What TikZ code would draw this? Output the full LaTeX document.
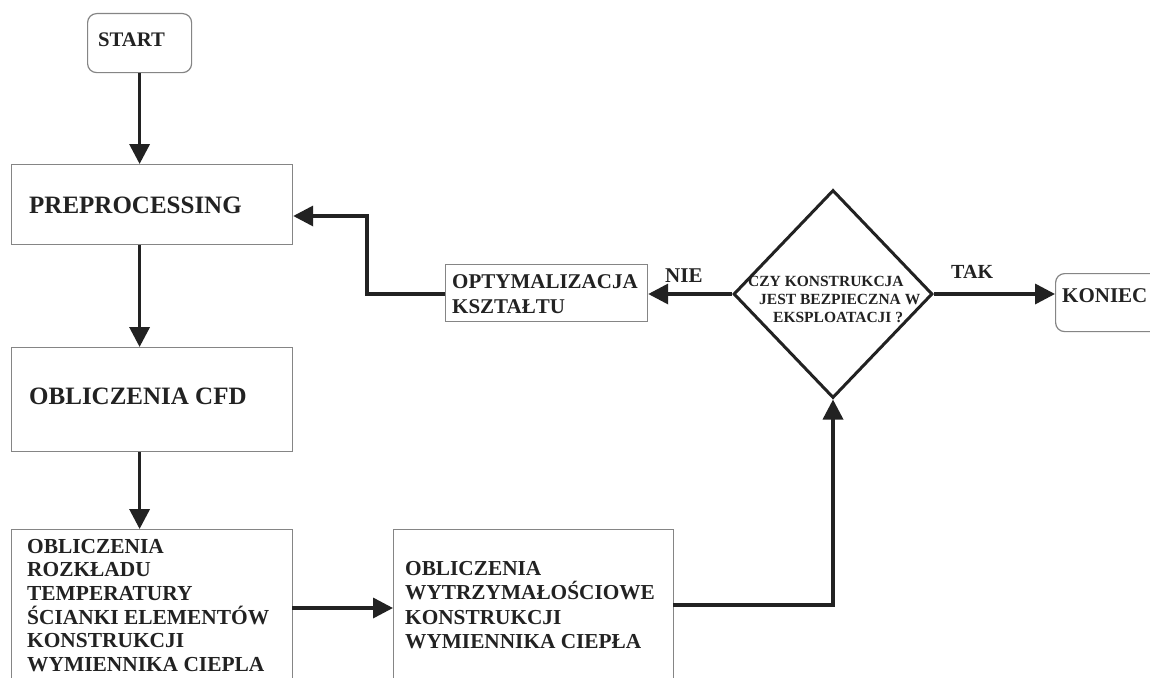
\documentclass[tikz,border=0pt]{standalone}
\usepackage{fontspec}
\setmainfont{Liberation Serif}
\usetikzlibrary{shapes.geometric,arrows.meta}
\definecolor{ink}{HTML}{222222}
\definecolor{boxgray}{HTML}{858585}
\begin{document}
\begin{tikzpicture}[x=1pt,y=-1pt,
  box/.style={draw=boxgray,line width=1.2pt,rectangle,inner sep=0pt,anchor=north west,fill=none},
  rbox/.style={box,rounded corners=9pt},
  conn/.style={line width=3.5pt,draw=ink},
  arr/.style={conn,-{Triangle[length=20pt,width=20pt]}},
  txt/.style={text=ink,inner sep=0pt,anchor=base west,align=left},
  big/.style={txt,font=\bfseries\fontsize{25}{30}\selectfont},
  mid/.style={txt,font=\bfseries\fontsize{21}{24}\selectfont},
  small/.style={txt,font=\bfseries\fontsize{15.5}{18}\selectfont}
]
\useasboundingbox (0,0) rectangle (1150,677);
\clip (0,0) rectangle (1150,677);
\fill[white] (0,0) rectangle (1150,677);

% boxes
\node[rbox,minimum width=104pt,minimum height=59pt] (start) at (87,13) {};
\node[box,minimum width=281pt,minimum height=80pt] (pre) at (11,164) {};
\node[box,minimum width=281pt,minimum height=104pt] (cfd) at (11,347) {};
\node[box,minimum width=281pt,minimum height=170pt] (temp) at (11,529) {};
\node[box,minimum width=280pt,minimum height=170pt] (wytrz) at (393,529) {};
\node[box,minimum width=202pt,minimum height=57pt] (opt) at (445,264) {};
\node[rbox,minimum width=120pt,minimum height=58pt] (koniec) at (1055,273) {};
\node[diamond,draw=ink,line width=3pt,inner sep=0pt,minimum width=199pt,minimum height=208pt] (dec) at (833,294) {};

% texts (multi-line nodes: base anchor = baseline of last line)
\node[mid,font=\bfseries\fontsize{20.7}{24}\selectfont] (tstart) at (98,47) {START};
\node[big] (tpre) at (29,213) {PREPROCESSING};
\node[big] (tcfd) at (29,404) {OBLICZENIA CFD};
\node[txt,font=\bfseries\fontsize{21.4}{23.7}\selectfont] (ttemp) at (27,671.5)
  {OBLICZENIA\\ROZKŁADU\\TEMPERATURY\\ŚCIANKI ELEMENTÓW\\KONSTRUKCJI\\WYMIENNIKA CIEPLA};
\node[txt,font=\bfseries\fontsize{21.3}{24.5}\selectfont] (twytrz) at (405,648.5)
  {OBLICZENIA\\WYTRZYMAŁOŚCIOWE\\KONSTRUKCJI\\WYMIENNIKA CIEPŁA};
\node[txt,font=\bfseries\fontsize{21}{25}\selectfont] (topt) at (452,313)
  {OPTYMALIZACJA\\KSZTAŁTU};
\node[small] (tdec) at (748,322)
  {CZY KONSTRUKCJA\\\hspace*{11pt}JEST BEZPIECZNA W\\\hspace*{25pt}EKSPLOATACJI ?};
\node[mid] (tkoniec) at (1062,302) {KONIEC};
\node[txt,font=\bfseries\fontsize{21}{24}\selectfont] (nie) at (665,282) {NIE};
\node[txt,font=\bfseries\fontsize{20}{24}\selectfont] (tak) at (951,278) {TAK};

% junction points
\coordinate (j1) at (292,608);
\coordinate (j2) at (673,605);
\coordinate (j3) at (367,216);

% connectors
\draw[arr] (start.south) -- (start.south |- pre.north);
\draw[arr] (start.south |- pre.south) -- (start.south |- cfd.north);
\draw[arr] (start.south |- cfd.south) -- (start.south |- temp.north);
\draw[arr] (j1) -- (j1 -| wytrz.west);
\draw[arr] (j2) -| (dec.south);
\draw[arr] (dec.west) -- (dec.west -| opt.east);
\draw[arr] (dec.east) -- (dec.east -| koniec.west);
\draw[arr] (opt.west |- dec.west) -| (j3) -- (j3 -| pre.east);
\end{tikzpicture}
\end{document}
